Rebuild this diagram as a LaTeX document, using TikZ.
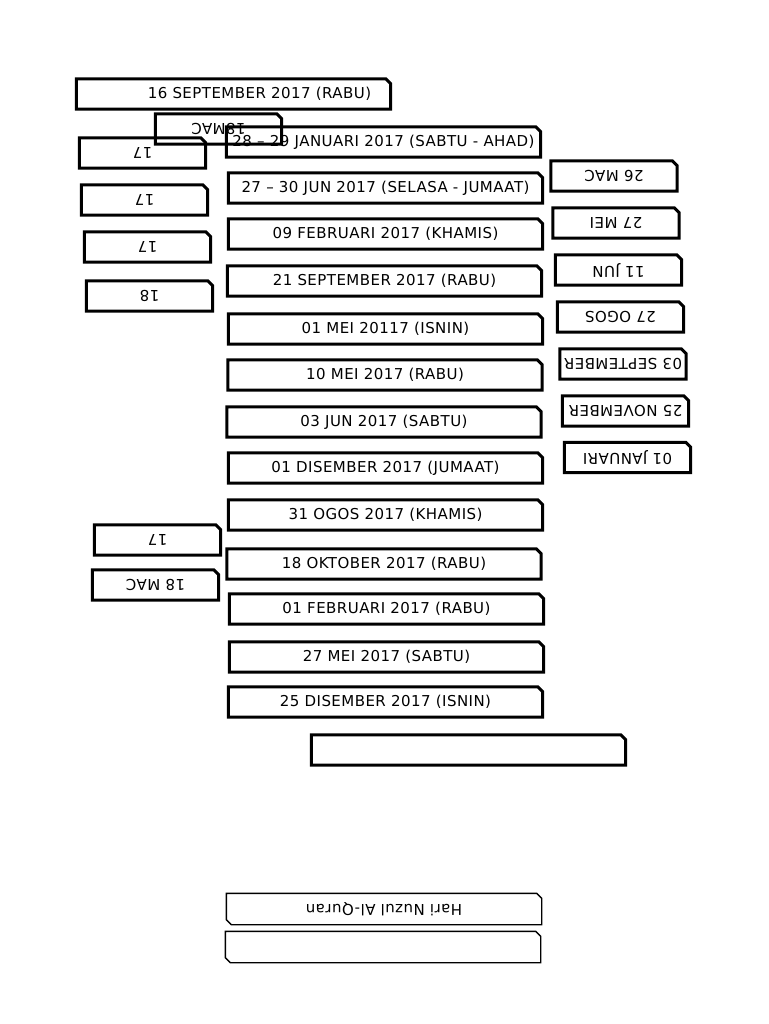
\documentclass[tikz,border=0pt]{standalone}
\usepackage{fontspec}
\setmainfont[LetterSpace=3]{DejaVu Sans}
\usepackage{tikz}
\usetikzlibrary{positioning}
\newcommand{\turned}[1]{\rotatebox[origin=c]{180}{#1}}
\tikzset{
  datebox/.style={rectangle, minimum width=314pt, minimum height=30pt,
    inner sep=0pt, font=\fontsize{15}{17}\selectfont},
  smallbox/.style={datebox, minimum width=126pt},
  thinbox/.style={datebox, minimum width=315pt, minimum height=31pt},
  outline/.style={draw=black, line width=3pt, line join=miter},
  thinline/.style={draw=black, line width=1.4pt, line join=miter}
}

\begin{document}
\begin{tikzpicture}[x=1pt, y=-1pt]
  \useasboundingbox (0,0) rectangle (768,1024);

  % Main column
  \node[datebox] (sep16) at (233.5,94) {\hspace*{52pt}16 SEPTEMBER 2017 (RABU)};
  \node[datebox] (jan28) at (383.5,142) {28 -- 29 JANUARI 2017 (SABTU - AHAD)};
  \node[datebox] (jun27) at (385.5,188) {27 -- 30 JUN 2017 (SELASA - JUMAAT)};
  \node[datebox] (feb09) at (385.5,234) {09 FEBRUARI 2017 (KHAMIS)};
  \node[datebox] (sep21) at (384.5,281) {21 SEPTEMBER 2017 (RABU)};
  \node[datebox] (mei01) at (385.5,329) {01 MEI 20117 (ISNIN)};
  \node[datebox] (mei10) at (385,375) {10 MEI 2017 (RABU)};
  \node[datebox] (jun03) at (384,422) {03 JUN 2017 (SABTU)};
  \node[datebox] (dis01) at (385.5,468) {01 DISEMBER 2017 (JUMAAT)};
  \node[datebox] (ogos31) at (385.5,515) {31 OGOS 2017 (KHAMIS)};
  \node[datebox] (okt18) at (384,564) {18 OKTOBER 2017 (RABU)};
  \node[datebox] (feb01) at (386.5,609) {01 FEBRUARI 2017 (RABU)};
  \node[datebox] (mei27) at (386.5,657) {27 MEI 2017 (SABTU)};
  \node[datebox] (dis25) at (385.5,702) {25 DISEMBER 2017 (ISNIN)};
  \node[datebox] (blank) at (468.5,750) {};

  % Left column
  \node[smallbox] (mac18a) at (218.5,129) {\turned{18MAC}};
  \node[smallbox] (left17a) at (142.5,153) {\turned{17}};
  \node[smallbox] (left17b) at (144.5,200) {\turned{17}};
  \node[smallbox] (left17c) at (147.5,247) {\turned{17}};
  \node[smallbox] (left18) at (149.5,296) {\turned{18}};
  \node[smallbox] (left17d) at (157.5,540) {\turned{17}};
  \node[smallbox] (mac18b) at (155.5,585) {\turned{18 MAC}};

  % Right column
  \node[smallbox] (mac26) at (614,176) {\turned{26 MAC}};
  \node[smallbox] (mei27r) at (616,223) {\turned{27 MEI}};
  \node[smallbox] (jun11) at (618.5,270) {\turned{11 JUN}};
  \node[smallbox] (ogos27) at (620.5,317) {\turned{27 OGOS}};
  \node[smallbox] (sep03) at (623,364) {\turned{03 SEPTEMBER}};
  \node[smallbox] (nov25) at (625.5,411) {\turned{25 NOVEMBER}};
  \node[smallbox] (jan01) at (627.5,457.5) {\turned{01 JANUARI}};

  % Bottom
  \node[thinbox] (nuzul) at (384,909) {\turned{Hari Nuzul Al-Quran}};
  \node[thinbox] (blank2) at (383,947) {};

  % Outlines with snipped corner
  \foreach \n in {sep16, jan28, jun27, feb09, sep21, mei01, mei10, jun03, dis01,
      ogos31, okt18, feb01, mei27, dis25, blank, mac18a, left17a, left17b,
      left17c, left18, left17d, mac18b, mac26, mei27r, jun11, ogos27, sep03,
      nov25, jan01}
    \draw[outline] (\n.south west) -- (\n.north west) -- ([xshift=-5pt]\n.north east)
      -- ([yshift=-5pt]\n.north east) -- (\n.south east) -- cycle;
  \foreach \n in {nuzul, blank2}
    \draw[thinline] ([yshift=5pt]\n.south west) -- (\n.north west)
      -- ([xshift=-5pt]\n.north east) -- ([yshift=-5pt]\n.north east)
      -- (\n.south east) -- ([xshift=5pt]\n.south west) -- cycle;
\end{tikzpicture}
\end{document}
